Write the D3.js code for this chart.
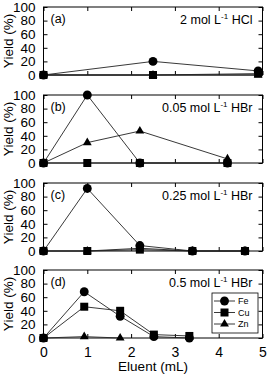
<!DOCTYPE html>
<html>
<head>
<meta charset="utf-8">
<script src="https://cdn.jsdelivr.net/npm/d3@7"></script>
<style>
  body { margin: 0; background: #fff; }
  text { font-family: "Liberation Sans", Arial, sans-serif; fill: #000; }
</style>
</head>
<body>
<script>
(function() {

    // values
    var panelLabels = ["(a)", "(b)", "(c)", "(d)"];
    var conditions = [
        ["2 mol L", "-1", " HCl"],
        ["0.05 mol L", "-1", " HBr"],
        ["0.25 mol L", "-1", " HBr"],
        ["0.5 mol L", "-1", " HBr"]
    ];

    var eluentA = [0, 2.5, 4.9];
    var feA = [0, 20, 6];
    var cuA = [0, 0, 2];
    var znA = [0, 0, 0];

    var eluentB = [0, 1, 2.2, 4.2];
    var feB = [0, 100, 0, 0];
    var cuB = [0, 0, 0, 0];
    var znB = [0, 30, 47, 6];

    var eluentC = [0, 1, 2.2, 3.4, 4.6];
    var feC = [0, 92, 8, 0, 0];
    var cuC = [0, 0, 2, 0, 0];
    var znC = [0, 0, 4, 0, 0];

    var eluentD = [0, 0.93, 1.75, 2.52, 3.33];
    var feD = [0, 68, 32, 2, 0];
    var cuD = [0, 46, 40, 5, 3];
    var eluentDZn = [0, 0.93, 1.75];
    var znD = [0, 2, 0];

    var elements = ["Fe", "Cu", "Zn"];
    var xTicks = [0, 1, 2, 3, 4, 5];
    var yTicks = [0, 20, 40, 60, 80, 100];

    var zip = function(xs, ys) {
        return ys.map(function(v, i) { return [xs[i], v]; });
    };

    var panels = [
        { fe: zip(eluentA, feA), cu: zip(eluentA, cuA), zn: zip(eluentA, znA) },
        { fe: zip(eluentB, feB), cu: zip(eluentB, cuB), zn: zip(eluentB, znB) },
        { fe: zip(eluentC, feC), cu: zip(eluentC, cuC), zn: zip(eluentC, znC) },
        { fe: zip(eluentD, feD), cu: zip(eluentD, cuD), zn: zip(eluentDZn, znD) }
    ];

    var width = 268,
        height = 376,
        left = 43.5,
        plotW = 219,
        plotH = 68,
        tops = [7, 95, 183, 270];

    var svg = d3.select("body")
        .append("svg")
        .attr("width", width)
        .attr("height", height);

    var x = d3.scaleLinear().domain([0, 5]).range([0, plotW]);
    var y = d3.scaleLinear().domain([0, 100]).range([plotH, 0]);
    var fmt = d3.format("d");

    var line = d3.line()
        .x(function(d) { return x(d[0]); })
        .y(function(d) { return y(d[1]); });

    var symbols = {
        Fe: d3.symbol().type(d3.symbolCircle).size(62),
        Cu: d3.symbol().type(d3.symbolSquare).size(64),
        Zn: d3.symbol().type(d3.symbolTriangle).size(34)
    };

    panels.forEach(function(p, i) {
        var g = svg.append("g")
            .attr("transform", "translate(" + left + "," + tops[i] + ")");

        // inward ticks, all four sides
        g.append("g")
            .call(d3.axisLeft(y).tickValues(yTicks).tickFormat(fmt).tickSizeInner(-4).tickSizeOuter(0).tickPadding(8))
            .call(function(a) {
                a.select(".domain").remove();
                a.attr("font-size", null).attr("font-family", null);
                a.selectAll("text").style("font-size", "13.5px");
            });
        g.append("g")
            .attr("transform", "translate(" + plotW + ",0)")
            .call(d3.axisRight(y).tickValues(yTicks).tickSizeInner(-4).tickSizeOuter(0).tickFormat(""))
            .select(".domain").remove();
        g.append("g")
            .call(d3.axisTop(x).tickValues(xTicks).tickSizeInner(-4).tickSizeOuter(0).tickFormat(""))
            .select(".domain").remove();
        var bottom = g.append("g")
            .attr("transform", "translate(0," + plotH + ")")
            .call(d3.axisBottom(x).tickValues(xTicks).tickFormat(fmt).tickSizeInner(-4).tickSizeOuter(0).tickPadding(9));
        bottom.select(".domain").remove();
        bottom.attr("font-size", null).attr("font-family", null);
        bottom.selectAll("text").style("font-size", "14px");
        if (i < 3) bottom.selectAll("text").remove();

        g.append("rect")
            .attr("width", plotW)
            .attr("height", plotH)
            .attr("fill", "none")
            .attr("stroke", "#000")
            .attr("stroke-width", 1);

        // series: draw Zn, Cu, Fe so Fe sits on top
        [["zn", "Zn"], ["cu", "Cu"], ["fe", "Fe"]].forEach(function(s) {
            var pts = p[s[0]];
            g.append("path")
                .datum(pts)
                .attr("d", line)
                .attr("fill", "none")
                .attr("stroke", "#222")
                .attr("stroke-width", 0.9);
            g.selectAll(".m" + s[0])
                .data(pts)
                .enter()
                .append("path")
                .attr("transform", function(d) {
                    return "translate(" + x(d[0]) + "," + y(d[1]) + ")";
                })
                .attr("d", symbols[s[1]])
                .attr("fill", "#000");
        });

        g.append("text")
            .attr("x", 7)
            .attr("y", 16)
            .style("font-size", "12.5px")
            .text(panelLabels[i]);

        var t = g.append("text")
            .attr("x", plotW - 10)
            .attr("y", 17)
            .attr("text-anchor", "end")
            .style("font-size", "12.5px");
        t.append("tspan").text(conditions[i][0]);
        t.append("tspan").attr("dy", -5).style("font-size", "8px").text(conditions[i][1]);
        t.append("tspan").attr("dy", 5).text(conditions[i][2]);

        svg.append("text")
            .attr("transform", "translate(13," + (tops[i] + plotH / 2) + ") rotate(-90)")
            .attr("text-anchor", "middle")
            .style("font-size", "13.5px")
            .text("Yield (%)");

        if (i === 3) {
            // legend
            var lg = g.append("g").attr("transform", "translate(168.5,23)");
            lg.append("rect")
                .attr("width", 46)
                .attr("height", 40)
                .attr("fill", "#fff")
                .attr("stroke", "#000")
                .attr("stroke-width", 0.8);
            elements.forEach(function(el, k) {
                var ly = 8 + k * 11.5;
                lg.append("line")
                    .attr("x1", 2).attr("x2", 23)
                    .attr("y1", ly).attr("y2", ly)
                    .attr("stroke", "#222")
                    .attr("stroke-width", 0.9);
                lg.append("path")
                    .attr("transform", "translate(12.5," + ly + ")")
                    .attr("d", symbols[el])
                    .attr("fill", "#000");
                lg.append("text")
                    .attr("x", 26)
                    .attr("y", ly + 3)
                    .style("font-size", "9px")
                    .text(el);
            });
        }
    });

    svg.append("text")
        .attr("x", left + plotW / 2)
        .attr("y", 371)
        .attr("text-anchor", "middle")
        .style("font-size", "13.5px")
        .text("Eluent (mL)");

})();
</script>
</body>
</html>
